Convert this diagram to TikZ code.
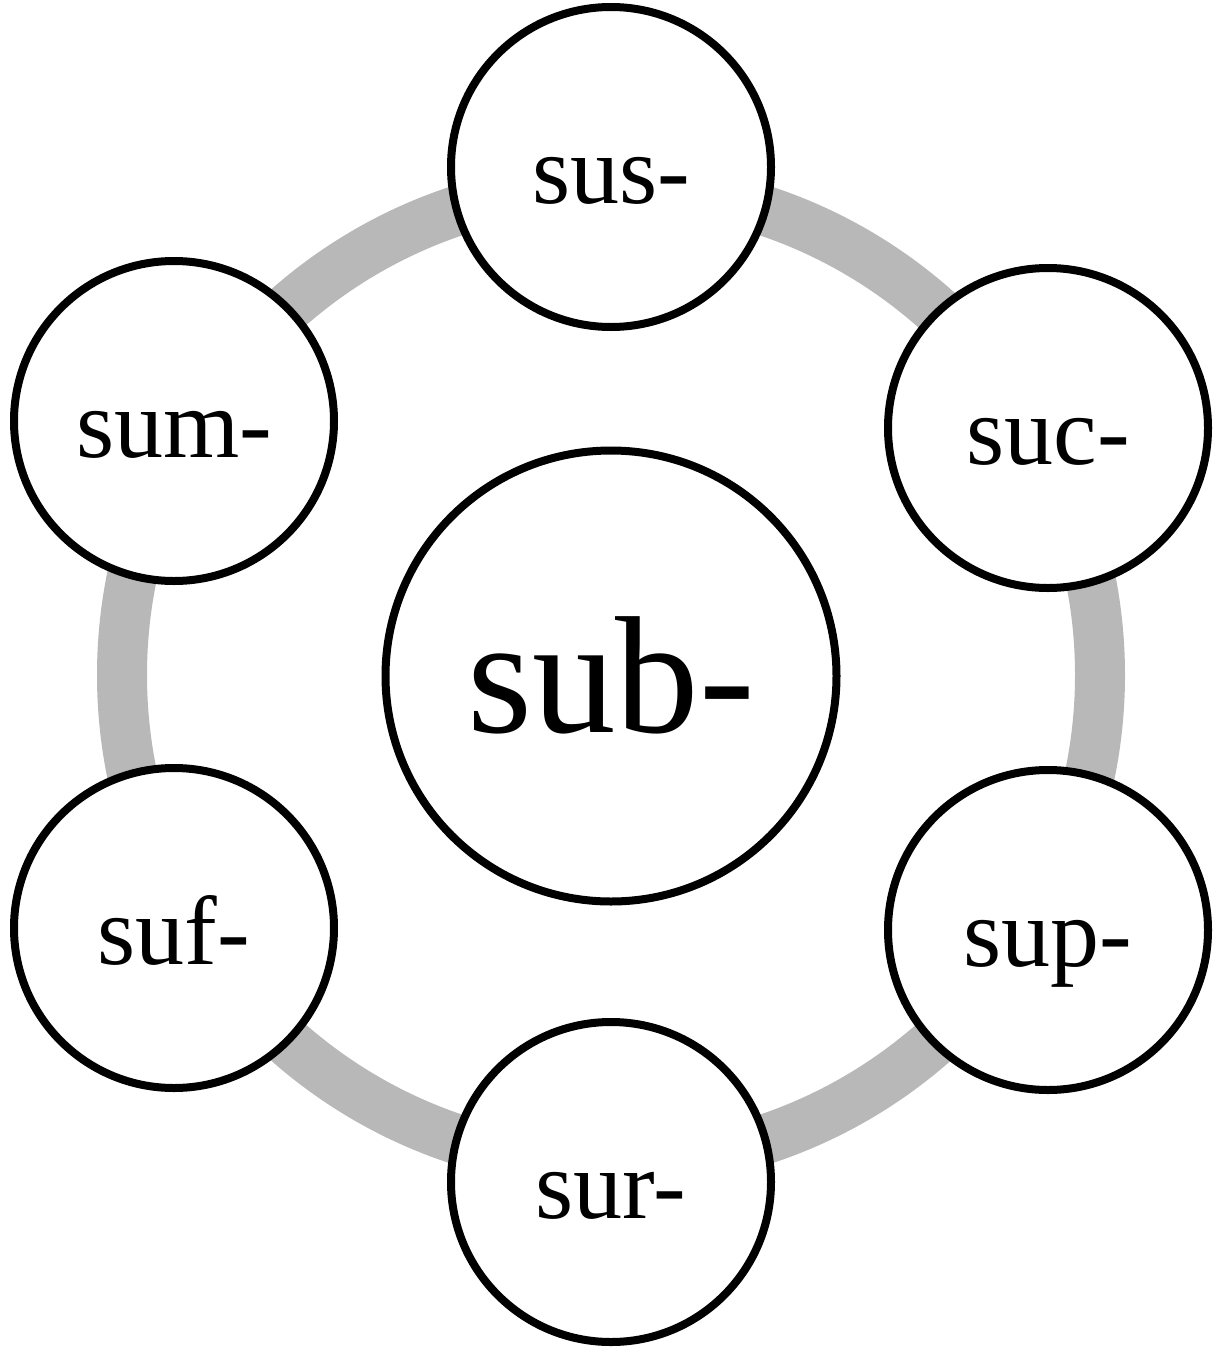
\documentclass[tikz,border=0pt]{standalone}
\usepackage{fontspec}
\setmainfont{Liberation Serif}
\begin{document}
\begin{tikzpicture}[x=0.5pt,y=-0.5pt,
  ring/.style={draw=black!28, line width=25pt},
  bubble/.style={circle, draw=black, line width=4pt, fill=white, minimum size=160pt, inner sep=0pt},
  hub/.style={bubble, minimum size=225.5pt},
  small/.style={anchor=base, font=\fontsize{49}{49}\selectfont, inner sep=0pt},
  big/.style={anchor=base, font=\fontsize{83.5}{83.5}\selectfont, inner sep=0pt}]
\useasboundingbox (0,0) rectangle (1215,1349);
\coordinate (c) at (611,675);
\draw[ring] (c) circle[radius=244.5pt];
\node[hub] (hub) at (611,676) {};
\node[bubble] (sus) at (611,167) {};
\node[bubble] (suc) at (1048,428) {};
\node[bubble] (sup) at (1048,930) {};
\node[bubble] (sur) at (611,1182) {};
\node[bubble] (suf) at (174,928) {};
\node[bubble] (sum) at (174,421) {};
\node[big] (thub) at ([yshift=-28pt]hub.center) {sub-};
\node[small] (tsus) at ([yshift=-18pt]sus.center) {sus-};
\node[small] (tsuc) at ([yshift=-18pt]suc.center) {suc-};
\node[small] (tsup) at ([yshift=-18pt]sup.center) {sup-};
\node[small] (tsur) at ([yshift=-18pt]sur.center) {sur-};
\node[small] (tsuf) at ([yshift=-18pt]suf.center) {suf-};
\node[small] (tsum) at ([yshift=-18pt]sum.center) {sum-};
\end{tikzpicture}
\end{document}
